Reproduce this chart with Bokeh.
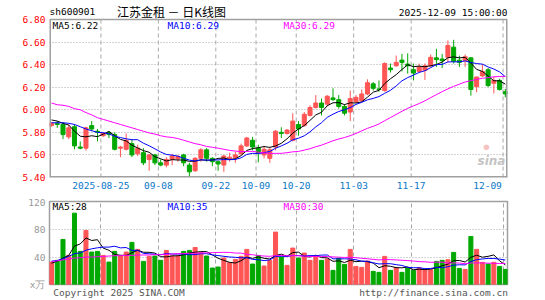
from bokeh.plotting import figure
from bokeh.layouts import column
from bokeh.models import (ColumnDataSource, FixedTicker, Label, Range1d,
                          NumeralTickFormatter, CustomJSTickFormatter)
from bokeh.embed import file_html
from bokeh.resources import INLINE

# ---------------- data ----------------
dates = [
    "2025-08-12", "2025-08-13", "2025-08-14", "2025-08-15", "2025-08-18", "2025-08-19",
    "2025-08-20", "2025-08-21", "2025-08-22", "2025-08-25", "2025-08-26", "2025-08-27",
    "2025-08-28", "2025-08-29", "2025-09-01", "2025-09-02", "2025-09-03", "2025-09-04",
    "2025-09-05", "2025-09-08", "2025-09-09", "2025-09-10", "2025-09-11", "2025-09-12",
    "2025-09-15", "2025-09-16", "2025-09-17", "2025-09-18", "2025-09-19", "2025-09-22",
    "2025-09-23", "2025-09-24", "2025-09-25", "2025-09-26", "2025-09-29", "2025-09-30",
    "2025-10-09", "2025-10-10", "2025-10-13", "2025-10-14", "2025-10-15", "2025-10-16",
    "2025-10-17", "2025-10-20", "2025-10-21", "2025-10-22", "2025-10-23", "2025-10-24",
    "2025-10-27", "2025-10-28", "2025-10-29", "2025-10-30", "2025-10-31", "2025-11-03",
    "2025-11-04", "2025-11-05", "2025-11-06", "2025-11-07", "2025-11-10", "2025-11-11",
    "2025-11-12", "2025-11-13", "2025-11-14", "2025-11-17", "2025-11-18", "2025-11-19",
    "2025-11-20", "2025-11-21", "2025-11-24", "2025-11-25", "2025-11-26", "2025-11-27",
    "2025-11-28", "2025-12-01", "2025-12-02", "2025-12-03", "2025-12-04", "2025-12-05",
    "2025-12-08", "2025-12-09",
]

opens = [5.86, 5.88, 5.87, 5.76, 5.85, 5.67, 5.66, 5.86, 5.81, 5.77,
         5.80, 5.78, 5.66, 5.65, 5.70, 5.61, 5.62, 5.56, 5.60, 5.53,
         5.51, 5.56, 5.565, 5.60, 5.51, 5.46, 5.57, 5.645, 5.57, 5.54,
         5.51, 5.57, 5.575, 5.61, 5.68, 5.73, 5.66, 5.60, 5.57, 5.67,
         5.80, 5.79, 5.73, 5.87, 5.86, 5.95, 6.02, 6.06, 6.05, 6.105,
         6.09, 6.03, 5.98, 6.07, 6.08, 6.14, 6.23, 6.185, 6.17, 6.37,
         6.39, 6.44, 6.405, 6.355, 6.34, 6.35, 6.39, 6.46, 6.45, 6.465,
         6.555, 6.44, 6.435, 6.46, 6.205, 6.30, 6.355, 6.235, 6.26, 6.16]
highs = [5.89, 5.90, 5.89, 5.87, 5.87, 5.72, 5.85, 5.90, 5.83, 5.80,
         5.81, 5.80, 5.68, 5.79, 5.74, 5.69, 5.66, 5.61, 5.61, 5.56,
         5.58, 5.61, 5.60, 5.61, 5.53, 5.58, 5.66, 5.66, 5.58, 5.55,
         5.60, 5.62, 5.63, 5.70, 5.76, 5.76, 5.69, 5.68, 5.67, 5.82,
         5.845, 5.83, 5.97, 5.90, 5.98, 6.04, 6.13, 6.10, 6.13, 6.19,
         6.13, 6.05, 6.17, 6.13, 6.18, 6.27, 6.245, 6.26, 6.42, 6.41,
         6.48, 6.495, 6.50, 6.41, 6.41, 6.41, 6.49, 6.54, 6.495, 6.615,
         6.62, 6.48, 6.49, 6.465, 6.295, 6.405, 6.37, 6.29, 6.275, 6.185]
lows = [5.85, 5.84, 5.74, 5.74, 5.65, 5.65, 5.64, 5.81, 5.72, 5.76,
        5.75, 5.64, 5.58, 5.64, 5.58, 5.59, 5.51, 5.46, 5.51, 5.50,
        5.49, 5.51, 5.54, 5.50, 5.40, 5.45, 5.54, 5.54, 5.50, 5.46,
        5.45, 5.54, 5.53, 5.60, 5.67, 5.64, 5.535, 5.57, 5.53, 5.64,
        5.75, 5.78, 5.72, 5.77, 5.85, 5.94, 6.01, 5.95, 6.03, 6.08,
        6.01, 5.95, 5.90, 6.06, 6.07, 6.13, 6.17, 6.16, 6.16, 6.33,
        6.38, 6.34, 6.32, 6.26, 6.33, 6.265, 6.38, 6.38, 6.37, 6.42,
        6.41, 6.38, 6.38, 6.125, 6.155, 6.29, 6.20, 6.145, 6.17, 6.11]
closes = [5.88, 5.87, 5.78, 5.84, 5.68, 5.66, 5.84, 5.83, 5.80, 5.79,
          5.78, 5.65, 5.67, 5.73, 5.60, 5.66, 5.53, 5.60, 5.53, 5.51,
          5.56, 5.59, 5.585, 5.53, 5.45, 5.57, 5.645, 5.57, 5.54, 5.52,
          5.59, 5.58, 5.60, 5.68, 5.75, 5.67, 5.62, 5.65, 5.645, 5.81,
          5.79, 5.82, 5.90, 5.83, 5.96, 6.02, 6.06, 6.02, 6.12, 6.09,
          6.03, 5.97, 6.10, 6.11, 6.14, 6.24, 6.19, 6.18, 6.41, 6.355,
          6.42, 6.42, 6.39, 6.325, 6.38, 6.39, 6.465, 6.445, 6.435, 6.57,
          6.43, 6.42, 6.47, 6.18, 6.29, 6.34, 6.215, 6.26, 6.18, 6.14]
volumes = [32.7, 35.2, 65.7, 42.4, 104.0, 48.3, 78.8, 47.3, 48.3, 42.4,
           32.7, 48.3, 41.5, 47.3, 61.4, 51.2, 33.7, 41.0, 41.5, 35.2,
           49.7, 41.5, 41.5, 48.3, 49.7, 54.0, 46.3, 41.5, 24.0, 25.5,
           38.6, 31.8, 36.6, 41.0, 51.2, 29.8, 42.4, 27.0, 35.2, 76.4,
           40.0, 27.9, 53.1, 38.6, 45.8, 35.2, 41.0, 35.2, 37.1, 20.6,
           38.6, 29.3, 51.2, 26.4, 25.0, 34.2, 19.2, 17.7, 41.0, 20.6,
           24.5, 17.7, 24.0, 20.6, 24.5, 21.6, 21.6, 33.7, 35.2, 36.1,
           46.8, 23.5, 22.0, 70.0, 51.2, 32.3, 29.8, 32.3, 26.4, 22.0]

ma5_head = [5.91, 5.90, 5.88, 5.865]
ma10_head = [5.885, 5.885, 5.885, 5.88, 5.87, 5.85, 5.83, 5.815, 5.80]
ma30_head = [6.06, 6.045, 6.04, 6.03, 6.01, 6.00, 5.975, 5.955, 5.93, 5.915,
             5.90, 5.885, 5.87, 5.855, 5.84, 5.825, 5.81, 5.795, 5.785, 5.77,
             5.76, 5.755, 5.745, 5.73, 5.715, 5.70, 5.69, 5.675, 5.668]
vma5_head = [31.0, 34.0, 38.5, 42.5]
vma10_head = [34.0, 35.0, 37.5, 41.0, 45.0, 46.0, 50.0, 52.0, 53.5]
vma30_head = [33.5, 34.5, 36.0, 37.0, 38.5, 39.0, 40.0, 40.0, 40.5, 41.0,
              41.5, 42.0, 42.0, 42.5, 42.5, 43.0, 43.0, 43.0, 43.5, 43.5,
              44.0, 44.5, 45.0, 45.0, 45.5, 45.5, 46.0, 46.0, 46.5]

price_ticks = [5.40, 5.60, 5.80, 6.00, 6.20, 6.40, 6.60, 6.80]
vol_ticks = [0, 40, 80, 120]
axis_dates = ["2025-08-25", "2025-09-08", "2025-09-22", "2025-10-09",
              "2025-10-20", "2025-11-03", "2025-11-17", "2025-12-09"]
axis_labels = ["2025-08-25", "09-08", "09-22", "10-09", "10-20", "11-03", "11-17", "12-09"]

header_code = "sh600901"
header_title = "江苏金租 － 日K线图"
header_time = "2025-12-09 15:00:00"
price_ma_texts = ["MA5:6.22", "MA10:6.29", "MA30:6.29"]
vol_ma_texts = ["MA5:28", "MA10:35", "MA30:30"]
footer_texts = ["Copyright 2025 SINA.COM", "http://finance.sina.com.cn"]


def rolling(vals, n, head):
    out = list(head)
    for i in range(n - 1, len(vals)):
        out.append(sum(vals[i - n + 1:i + 1]) / n)
    return out


# ---------------- styles ----------------
RED = "#ff5555"
GREEN = "#00a800"
FRAME = "#a0a0a0"
GRID = "#a8a8a8"
MONO = "DejaVu Sans Mono"
FS = "9.5px"
MA_COLORS = ["black", "#0000ff", "#ff00ff"]
GRID_SHIFT = 0.4      # dashed lines sit just left of the candle centre
BAR_W = 0.7
PX = 5.745            # pixels per trading day
X0 = 51.0             # pixel of the first candle centre
HEADER_PX = 19        # header strip above the price box
PRICE_BOX_PX = 158    # height of the price box

idx = list(range(len(dates)))
colors = [RED if c >= o else GREEN for o, c in zip(opens, closes)]
src = ColumnDataSource(dict(
    x=idx, o=opens, h=highs, l=lows, c=closes, v=volumes,
    top=[max(o, c) for o, c in zip(opens, closes)],
    bot=[min(o, c) for o, c in zip(opens, closes)],
    col=colors,
    ma5=rolling(closes, 5, ma5_head), ma10=rolling(closes, 10, ma10_head),
    ma30=rolling(closes, 30, ma30_head),
    vma5=rolling(volumes, 5, vma5_head), vma10=rolling(volumes, 10, vma10_head),
    vma30=rolling(volumes, 30, vma30_head),
))

grid_pos = [dates.index(d) - GRID_SHIFT for d in axis_dates]
label_pos = list(grid_pos)
label_pos[-1] = grid_pos[-1] - 2.7   # last label is kept inside the frame

xr = Range1d((49 - X0) / PX, (507 - X0) / PX)
pmin, pmax = price_ticks[0], price_ticks[-1]
# the price frame also holds the header strip above the box
ptop = pmax + HEADER_PX * (pmax - pmin) / PRICE_BOX_PX


def style_axes(p):
    for ax in (p.xaxis, p.yaxis):
        ax.axis_line_color = None
        ax.major_tick_line_color = None
        ax.minor_tick_line_color = None
        ax.major_tick_out = 0
        ax.major_tick_in = 0
        ax.major_label_text_font = MONO
        ax.major_label_text_font_size = FS


# ---------------- price panel (with header strip) ----------------
p1 = figure(width=545, height=196, x_range=xr, y_range=Range1d(pmin, ptop),
            output_backend="svg", toolbar_location=None,
            min_border_left=49, min_border_right=38, min_border_top=0, min_border_bottom=19,
            background_fill_color="white", border_fill_color="white",
            outline_line_color=None)
style_axes(p1)
p1.xgrid.grid_line_color = None
p1.ygrid.ticker = FixedTicker(ticks=price_ticks[1:-1])
p1.ygrid.grid_line_color = GRID
p1.ygrid.grid_line_dash = "1 2"
p1.yaxis.ticker = FixedTicker(ticks=price_ticks)
p1.yaxis.formatter = NumeralTickFormatter(format="0.00")
p1.yaxis.major_label_text_color = "#ff0000"
p1.yaxis.major_label_standoff = 4
p1.xaxis.ticker = FixedTicker(ticks=label_pos)
p1.xaxis.formatter = CustomJSTickFormatter(
    args=dict(pos=label_pos, labs=axis_labels),
    code="const i = pos.findIndex(q => Math.abs(q - tick) < 1e-6); return i >= 0 ? labs[i] : '';")
p1.xaxis.major_label_text_color = "#0a78c8"
p1.xaxis.major_label_standoff = 4

# dashed date lines, limited to the price box
n = len(grid_pos)
p1.segment(x0=grid_pos, y0=[pmin] * n, x1=grid_pos, y1=[pmax] * n,
           line_color=GRID, line_dash="4 3", line_width=1)

p1.segment(x0="x", y0="l", x1="x", y1="h", color="col", line_width=1, source=src)
p1.vbar(x="x", top="top", bottom="bot", width=BAR_W, fill_color="col",
        line_color="col", line_width=1, source=src)
for key, colr in zip(["ma5", "ma10", "ma30"], MA_COLORS):
    p1.line("x", key, color=colr, line_width=1, source=src)

# box around the price area (edges on the frame border are half clipped -> wider)
p1.segment(x0=[xr.start, xr.end, xr.start], y0=[pmin, pmin, pmin],
           x1=[xr.start, xr.end, xr.end], y1=[pmax, pmax, pmin],
           line_color=FRAME, line_width=3)
p1.segment(x0=[xr.start], y0=[pmax], x1=[xr.end], y1=[pmax],
           line_color=FRAME, line_width=1.5)

# watermark
p1.add_layout(Label(x=433, y=24, x_units="screen", y_units="screen", text="●",
                    text_color="#f4b0b0", text_font_size="13px", text_alpha=0.8))
p1.add_layout(Label(x=428, y=10, x_units="screen", y_units="screen", text="sina",
                    text_color="#c4c4c4", text_font_size="12px", text_font_style="bold italic",
                    text_font="DejaVu Sans"))

# header (screen units measured from the bottom-left of the frame)
p1.add_layout(Label(x=0, y=166, x_units="screen", y_units="screen", text=header_code,
                    text_font=MONO, text_font_size=FS, text_baseline="middle", text_color="black"))
p1.add_layout(Label(x=122, y=166.5, x_units="screen", y_units="screen", text=header_title,
                    text_font="Noto Sans CJK SC", text_font_size="12px", text_align="center",
                    text_baseline="middle", text_color="black"))
p1.add_layout(Label(x=458, y=165, x_units="screen", y_units="screen", text=header_time,
                    text_font=MONO, text_font_size=FS, text_align="right",
                    text_baseline="middle", text_color="black"))

for t, xs, colr in zip(price_ma_texts, [3, 118, 234], MA_COLORS):
    p1.add_layout(Label(x=xs, y=152.5, x_units="screen", y_units="screen", text=t,
                        text_font=MONO, text_font_size=FS, text_baseline="middle",
                        text_color=colr))

# ---------------- volume panel ----------------
p2 = figure(width=545, height=104, x_range=xr, y_range=Range1d(0, 121),
            output_backend="svg", toolbar_location=None,
            min_border_left=49, min_border_right=38, min_border_top=5, min_border_bottom=15,
            background_fill_color="white", border_fill_color="white",
            outline_line_color=FRAME, outline_line_width=1.5)
style_axes(p2)
p2.xgrid.ticker = FixedTicker(ticks=grid_pos)
p2.xgrid.grid_line_color = GRID
p2.xgrid.grid_line_dash = "4 3"
p2.ygrid.ticker = FixedTicker(ticks=vol_ticks[1:-1])
p2.ygrid.grid_line_color = GRID
p2.ygrid.grid_line_dash = "1 2"
p2.yaxis.ticker = FixedTicker(ticks=vol_ticks)
p2.yaxis.formatter = CustomJSTickFormatter(code="return tick == 0 ? 'x万' : tick.toFixed(0);")
p2.yaxis.major_label_text_color = "#999999"
p2.yaxis.major_label_standoff = 4

# footer texts ride on the volume panel's bottom axis
foot_pos = [(118.5 - X0) / PX, (433.0 - X0) / PX]
p2.xaxis.ticker = FixedTicker(ticks=foot_pos)
p2.xaxis.formatter = CustomJSTickFormatter(
    args=dict(pos=foot_pos, labs=footer_texts),
    code="const i = pos.findIndex(q => Math.abs(q - tick) < 1e-6); return i >= 0 ? labs[i] : '';")
p2.xaxis.major_label_text_color = "#555555"
p2.xaxis.major_label_standoff = 2

p2.vbar(x="x", top="v", bottom=0, width=BAR_W, fill_color="col", line_color="col",
        line_width=1, source=src)
for key, colr in zip(["vma5", "vma10", "vma30"], MA_COLORS):
    p2.line("x", key, color=colr, line_width=1, source=src)

for t, xs, colr in zip(vol_ma_texts, [3, 118, 234], MA_COLORS):
    p2.add_layout(Label(x=xs, y=78, x_units="screen", y_units="screen", text=t,
                        text_font=MONO, text_font_size=FS, text_baseline="middle",
                        text_color=colr))

layout = column(p1, p2, spacing=0)
open("out.html", "w").write(file_html(layout, INLINE))
